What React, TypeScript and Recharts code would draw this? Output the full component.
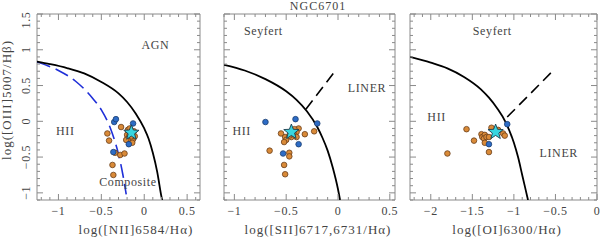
import { ComposedChart, XAxis, YAxis, Line, Scatter, ReferenceArea, ReferenceDot } from "recharts";

const W = 600;
const H = 241;
const TOP = 14;
const BOTTOM = 200;
const PH = BOTTOM - TOP;

const FRAME = "#8a8a8a";
const INK = "#444";
const FONT = "'Liberation Serif', 'DejaVu Serif', serif";

const yDomain: [number, number] = [-1.1, 1.5];
const yMajor = [-1, -0.5, 0, 0.5, 1, 1.5];

// panel 1: [NII]
const niiDomain: [number, number] = [-1.25, 0.65];
const niiMajor = [-1, -0.5, 0, 0.5];
const niiKewley = [
  { x: -1.25, y: 0.835 }, { x: -1.1, y: 0.8 }, { x: -0.9, y: 0.745 }, { x: -0.7, y: 0.67 },
  { x: -0.5, y: 0.55 }, { x: -0.3, y: 0.39 }, { x: -0.2, y: 0.27 }, { x: -0.1, y: 0.11 },
  { x: 0.0, y: -0.1 }, { x: 0.05, y: -0.24 }, { x: 0.1, y: -0.44 }, { x: 0.15, y: -0.7 },
  { x: 0.2, y: -1.05 }, { x: 0.21, y: -1.11 },
];
const niiKauffmann = [
  { x: -1.25, y: 0.83 }, { x: -1.0, y: 0.71 }, { x: -0.8, y: 0.56 }, { x: -0.6, y: 0.32 },
  { x: -0.5, y: 0.16 }, { x: -0.4, y: -0.08 }, { x: -0.35, y: -0.25 }, { x: -0.3, y: -0.46 },
  { x: -0.25, y: -0.74 }, { x: -0.21, y: -1.02 },
];
const niiOrange = [
  { x: -0.27, y: -0.08 }, { x: -0.43, y: -0.17 }, { x: -0.41, y: -0.27 }, { x: -0.34, y: -0.44 },
  { x: -0.28, y: -0.47 }, { x: -0.23, y: -0.45 }, { x: -0.37, y: -0.61 }, { x: -0.36, y: -0.75 },
  { x: -0.19, y: -0.12 }, { x: -0.2, y: -0.19 }, { x: -0.18, y: -0.23 }, { x: -0.16, y: -0.27 },
  { x: -0.13, y: -0.25 }, { x: -0.11, y: -0.21 }, { x: -0.12, y: -0.14 }, { x: -0.17, y: -0.1 },
  { x: -0.14, y: -0.3 }, { x: -0.17, y: -0.19 }, { x: -0.21, y: -0.26 }, { x: -0.15, y: -0.21 },
];
const niiBlue = [
  { x: -0.35, y: -0.01 }, { x: -0.33, y: 0.03 }, { x: -0.13, y: -0.03 }, { x: -0.18, y: -0.32 },
  { x: -0.36, y: -0.43 },
];
const niiStar = [{ x: -0.15, y: -0.16 }];
const niiText = [
  { x: 0.13, y: 1.07, text: "AGN" },
  { x: -0.92, y: -0.14, text: "HII" },
  { x: -0.19, y: -0.85, text: "Composite" },
];

// panel 2: [SII]
const siiDomain: [number, number] = [-1.1, 0.55];
const siiMajor = [-1, -0.5, 0, 0.5];
const siiKewley = [
  { x: -1.1, y: 0.79 }, { x: -0.9, y: 0.71 }, { x: -0.7, y: 0.59 }, { x: -0.5, y: 0.42 },
  { x: -0.4, y: 0.3 }, { x: -0.3, y: 0.14 }, { x: -0.2, y: -0.08 }, { x: -0.15, y: -0.23 },
  { x: -0.1, y: -0.41 }, { x: -0.05, y: -0.65 }, { x: 0.0, y: -0.95 }, { x: 0.02, y: -1.1 },
];
const siiSplit = [{ x: -0.31, y: 0.17 }, { x: -0.03, y: 0.7 }];
const siiOrange = [
  { x: -0.66, y: -0.41 }, { x: -0.55, y: -0.17 }, { x: -0.51, y: -0.22 }, { x: -0.5, y: -0.26 },
  { x: -0.52, y: -0.29 }, { x: -0.47, y: -0.44 }, { x: -0.47, y: -0.49 }, { x: -0.52, y: -0.61 },
  { x: -0.51, y: -0.74 }, { x: -0.38, y: -0.1 }, { x: -0.4, y: -0.15 }, { x: -0.42, y: -0.19 },
  { x: -0.4, y: -0.22 }, { x: -0.32, y: -0.18 }, { x: -0.23, y: -0.14 }, { x: -0.42, y: -0.11 },
  { x: -0.45, y: -0.22 }, { x: -0.44, y: -0.18 }, { x: -0.47, y: -0.2 },
];
const siiBlue = [
  { x: -0.7, y: -0.01 }, { x: -0.41, y: 0.03 }, { x: -0.2, y: -0.03 }, { x: -0.38, y: -0.32 },
  { x: -0.53, y: -0.45 },
];
const siiStar = [{ x: -0.45, y: -0.15 }];
const siiText = [
  { x: -0.72, y: 1.26, text: "Seyfert" },
  { x: 0.28, y: 0.47, text: "LINER" },
  { x: -0.93, y: -0.14, text: "HII" },
];

// panel 3: [OI]
const oiDomain: [number, number] = [-2.25, 0];
const oiMajor = [-2, -1.5, -1, -0.5, 0];
const oiKewley = [
  { x: -2.25, y: 0.9 }, { x: -2.0, y: 0.82 }, { x: -1.8, y: 0.74 }, { x: -1.6, y: 0.62 },
  { x: -1.4, y: 0.45 }, { x: -1.3, y: 0.33 }, { x: -1.2, y: 0.18 }, { x: -1.1, y: -0.01 },
  { x: -1.0, y: -0.3 }, { x: -0.95, y: -0.5 }, { x: -0.9, y: -0.75 }, { x: -0.85, y: -1.0 },
  { x: -0.83, y: -1.1 },
];
const oiSplit = [{ x: -1.08, y: 0.06 }, { x: -0.51, y: 0.73 }];
const oiOrange = [
  { x: -1.57, y: -0.11 }, { x: -1.8, y: -0.45 }, { x: -1.48, y: -0.27 }, { x: -1.39, y: -0.18 },
  { x: -1.38, y: -0.22 }, { x: -1.35, y: -0.19 }, { x: -1.36, y: -0.24 }, { x: -1.33, y: -0.22 },
  { x: -1.3, y: -0.22 }, { x: -1.27, y: -0.09 }, { x: -1.35, y: -0.3 }, { x: -1.3, y: -0.43 },
  { x: -1.13, y: -0.17 }, { x: -1.11, y: -0.2 }, { x: -1.19, y: -0.12 },
];
const oiBlue = [{ x: -1.3, y: -0.32 }, { x: -1.08, y: -0.04 }];
const oiStar = [{ x: -1.22, y: -0.15 }];
const oiText = [
  { x: -1.26, y: 1.26, text: "Seyfert" },
  { x: -1.93, y: 0.06, text: "HII" },
  { x: -0.46, y: -0.44, text: "LINER" },
];

function tenths(lo: number, hi: number) {
  const out: number[] = [];
  for (let i = Math.ceil(lo * 10 - 1e-6); i <= Math.floor(hi * 10 + 1e-6); i++) out.push(i / 10);
  return out;
}

function fmt(v: number) {
  return v < 0 ? "\u2212" + String(-v) : String(v);
}

function isMajor(majors: number[], v: number) {
  return majors.some((m) => Math.abs(m - v) < 1e-6);
}

function XTick(props: any) {
  const { x, y, payload, majors } = props;
  const major = isMajor(majors, payload.value);
  const len = major ? 6 : 3;
  return (
    <g>
      <line x1={x} x2={x} y1={y} y2={y - len} stroke={FRAME} />
      <line x1={x} x2={x} y1={y - PH} y2={y - PH + len} stroke={FRAME} />
      {major ? (
        <text x={x} y={y + 15} textAnchor="middle" fontSize={12} fill={INK} fontFamily={FONT} letterSpacing={0.6}>
          {fmt(payload.value)}
        </text>
      ) : null}
    </g>
  );
}

function YTick(props: any) {
  const { x, y, payload, pw, labels } = props;
  const major = isMajor(yMajor, payload.value);
  const len = major ? 6 : 3;
  // the top label sits a little lower so it stays on the page
  const ly = payload.value >= 1.5 ? y + 6 : y;
  return (
    <g>
      <line x1={x} x2={x + len} y1={y} y2={y} stroke={FRAME} />
      <line x1={x + pw} x2={x + pw - len} y1={y} y2={y} stroke={FRAME} />
      {major && labels ? (
        <text
          x={x - 7}
          y={ly}
          textAnchor="middle"
          fontSize={12}
          fill={INK}
          fontFamily={FONT}
          letterSpacing={0.6}
          transform={`rotate(-90, ${x - 7}, ${ly})`}
        >
          {fmt(payload.value)}
        </text>
      ) : null}
    </g>
  );
}

function Dot(fill: string, stroke: string) {
  return (p: any) => <circle cx={p.cx} cy={p.cy} r={2.8} fill={fill} stroke={stroke} strokeWidth={0.8} />;
}

function Star(p: any) {
  const pts: string[] = [];
  for (let i = 0; i < 10; i++) {
    const r = i % 2 === 0 ? 8 : 3.4;
    const a = -Math.PI / 2 + (i * Math.PI) / 5;
    pts.push(`${p.cx + r * Math.cos(a)},${p.cy + r * Math.sin(a)}`);
  }
  return <polygon points={pts.join(" ")} fill="#38d6e0" stroke="#1c3c4c" strokeWidth={0.9} />;
}

type Pt = { x: number; y: number };

type PanelProps = {
  left: number;
  right: number;
  domain: [number, number];
  majors: number[];
  solid: Pt[];
  dashed: Pt[];
  dashColor: string;
  dash: string;
  orange: Pt[];
  blue: Pt[];
  star: Pt[];
  texts: { x: number; y: number; text: string }[];
  yLabels: boolean;
};

function Panel(p: PanelProps) {
  const pw = p.right - p.left;
  return (
    <div style={{ position: "absolute", left: 0, top: 0 }}>
      <ComposedChart
        width={W}
        height={H}
        margin={{ left: p.left - 1, right: W - p.right, top: TOP, bottom: H - BOTTOM - 1 }}
      >
        <XAxis
          type="number"
          dataKey="x"
          domain={p.domain}
          allowDataOverflow
          ticks={tenths(p.domain[0], p.domain[1])}
          interval={0}
          height={1}
          tickSize={0}
          tickMargin={0}
          axisLine={false}
          tickLine={false}
          tick={(t: any) => <XTick {...t} majors={p.majors} />}
        />
        <YAxis
          type="number"
          dataKey="y"
          domain={yDomain}
          allowDataOverflow
          ticks={tenths(yDomain[0], yDomain[1])}
          interval={0}
          width={1}
          tickSize={0}
          tickMargin={0}
          axisLine={false}
          tickLine={false}
          tick={(t: any) => <YTick {...t} pw={pw} labels={p.yLabels} />}
        />
        <ReferenceArea
          x1={p.domain[0]}
          x2={p.domain[1]}
          y1={yDomain[0]}
          y2={yDomain[1]}
          fill="none"
          stroke={FRAME}
          strokeWidth={1}
        />
        <Line
          data={p.dashed}
          dataKey="y"
          type="monotone"
          stroke={p.dashColor}
          strokeWidth={1.6}
          strokeDasharray={p.dash}
          dot={false}
          isAnimationActive={false}
        />
        <Line
          data={p.solid}
          dataKey="y"
          type="monotone"
          stroke="#000"
          strokeWidth={1.8}
          dot={false}
          isAnimationActive={false}
        />
        <Scatter data={p.orange} dataKey="y" shape={Dot("#d98a38", "#6a3f1c")} isAnimationActive={false} />
        <Scatter data={p.blue} dataKey="y" shape={Dot("#2d6cc6", "#1d3f70")} isAnimationActive={false} />
        <Scatter data={p.star} dataKey="y" shape={Star} isAnimationActive={false} />
        {p.texts.map((t) => (
          <ReferenceDot
            key={t.text}
            x={t.x}
            y={t.y}
            r={0}
            shape={(s: any) => (
              <text
                x={s.cx}
                y={s.cy}
                textAnchor="middle"
                dominantBaseline="central"
                fontSize={12}
                fill={INK}
                fontFamily={FONT}
                letterSpacing={0.6}
              >
                {t.text}
              </text>
            )}
          />
        ))}
      </ComposedChart>
    </div>
  );
}

export default function App() {
  const label = { fontSize: 13, fill: INK, fontFamily: FONT, letterSpacing: 1 } as const;
  return (
    <div style={{ position: "absolute", left: 0, top: 0, width: W, height: H, background: "#fff" }}>
      <Panel
        left={37}
        right={200}
        domain={niiDomain}
        majors={niiMajor}
        solid={niiKewley}
        dashed={niiKauffmann}
        dashColor="#1f2fd8"
        dash="14 6"
        orange={niiOrange}
        blue={niiBlue}
        star={niiStar}
        texts={niiText}
        yLabels
      />
      <Panel
        left={224}
        right={395}
        domain={siiDomain}
        majors={siiMajor}
        solid={siiKewley}
        dashed={siiSplit}
        dashColor="#000"
        dash="11 6"
        orange={siiOrange}
        blue={siiBlue}
        star={siiStar}
        texts={siiText}
        yLabels={false}
      />
      <Panel
        left={410}
        right={597}
        domain={oiDomain}
        majors={oiMajor}
        solid={oiKewley}
        dashed={oiSplit}
        dashColor="#000"
        dash="11 6"
        orange={oiOrange}
        blue={oiBlue}
        star={oiStar}
        texts={oiText}
        yLabels={false}
      />
      <svg width={W} height={H} style={{ position: "absolute", left: 0, top: 0, pointerEvents: "none" }}>
        <text x={318} y={10} textAnchor="middle" {...label} fontSize={12}>
          NGC6701
        </text>
        <text x={136} y={234} textAnchor="middle" {...label}>
          log([NII]6584/Hα)
        </text>
        <text x={318} y={234} textAnchor="middle" {...label}>
          log([SII]6717,6731/Hα)
        </text>
        <text x={507} y={234} textAnchor="middle" {...label}>
          log([OI]6300/Hα)
        </text>
        <text x={11} y={100} textAnchor="middle" {...label} transform="rotate(-90, 11, 100)">
          log([OIII]5007/Hβ)
        </text>
      </svg>
    </div>
  );
}
